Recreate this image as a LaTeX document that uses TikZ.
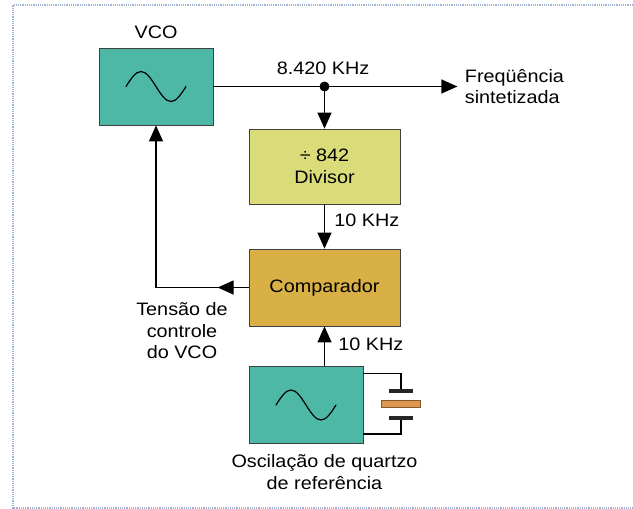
\documentclass[tikz,border=0pt]{standalone}
\usepackage{fontspec}
\setmainfont[FakeStretch=1.1]{Liberation Sans}
\usetikzlibrary{arrows.meta, calc, positioning}
\definecolor{vcoTeal}{RGB}{77,184,165}
\definecolor{divYellow}{RGB}{217,220,120}
\definecolor{compOchre}{RGB}{216,176,69}
\definecolor{quartzOrange}{RGB}{222,150,80}
\definecolor{frameBlue}{RGB}{160,180,210}

\begin{document}
\begin{tikzpicture}[x=1pt, y=-1pt, font=\fontsize{18}{21.5}\selectfont,
	>={Triangle[length=16pt, width=14pt]},
	block/.style={draw=black!75, line width=0.8pt, inner sep=0pt, align=center, minimum width=151pt, minimum height=76pt},
	oscbox/.style={block, fill=vcoTeal, minimum width=114pt, minimum height=77pt},
	wire/.style={line width=1.2pt},
	wave/.style={line width=1.2pt, line cap=round}]
\useasboundingbox (0,0) rectangle (633,509);

% Draw frame
\draw[frameBlue, densely dotted, line width=1.2pt] (633,5) -- (13,5) -- (13,508) -- (633,508);

% Draw blocks
\node[oscbox] (vco) at (156,86.5) {};
\node[block, fill=divYellow, minimum height=75pt] (div) at (324.5,166.5) {÷ 842\\Divisor};
\node[block, fill=compOchre, minimum height=77pt] (comp) at (324.5,287.5) {Comparador};
\node[oscbox] (osc) at (306,405) {};

% Draw waves
\draw[wave] ($(vco.center)+(-30,0)$) sin ++(15,-15) cos ++(15,15) sin ++(15,15) cos ++(15,-15);
\draw[wave] ($(osc.center)+(-30,0)$) sin ++(15,-15) cos ++(15,15) sin ++(15,15) cos ++(15,-15);

% Draw labels
\node[above=5pt of vco] (vcoLbl) {VCO};
\node (freqLbl) at (323,68) {8.420 KHz};
\node[align=center] (ctrlLbl) at (182,331) {Tensão de\\controle\\do VCO};
\node[align=center] (oscLbl) at (324.5,472) {Oscilação de quartzo\\de referência};

% Draw lines
\coordinate (jn) at (div.north |- vco.east);
\coordinate (out) at ($(vco.east)+(244,0)$);
\coordinate (corner) at (vco.south |- comp.west);
\draw[wire, ->] (vco.east) -- (out);
\node[right=4pt of out, align=left] (synth) {Freqüência\\sintetizada};
\fill (jn) circle[radius=5];
\draw[wire, ->] (jn) -- (div.north);
\draw[wire, ->] (div.south) -- (comp.north) node[pos=0.35, right=6pt] (divFreq) {10 KHz};
\draw[wire, ->] (comp.south |- osc.north) -- (comp.south) node[pos=0.54, right=10pt] (refFreq) {10 KHz};
\draw[wire, ->] (comp.west) -- (corner) -- (vco.south);
\draw[wire, ->] (comp.west) -- ++(-31,0);

% Draw quartz crystal
\coordinate (xtal) at (401,404);
\draw[wire] ($(osc.north east)+(0,7)$) -| ($(xtal)+(0,-13)$);
\draw[wire] ($(osc.south east)+(0,-10)$) -| ($(xtal)+(0,14)$);
\draw[line width=4pt, black!85] ($(xtal)+(-12,-13)$) -- ++(24,0);
\draw[line width=4pt, black!85] ($(xtal)+(-12,14)$) -- ++(24,0);
\filldraw[fill=quartzOrange, draw=brown!70!black, line width=0.6pt] ($(xtal)+(-20,-3.5)$) rectangle ++(39,7);
\end{tikzpicture}
\end{document}
